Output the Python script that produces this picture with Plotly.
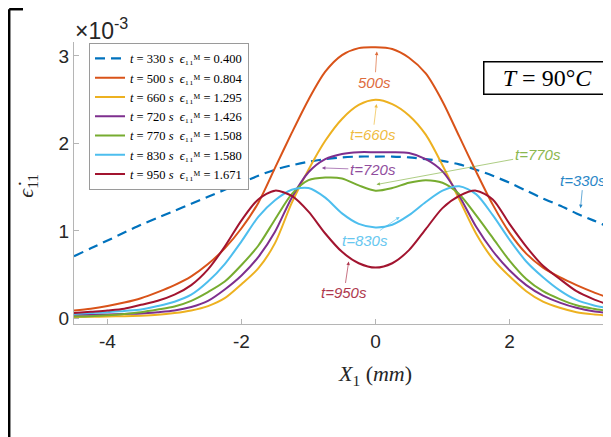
import plotly.graph_objects as go

# ---------------- data (strain rate in units of 1e-3) ----------------
x_mm = [-4.5, -4.25, -4, -3.75, -3.5, -3.25, -3, -2.75, -2.5, -2.25, -2, -1.75, -1.5, -1.25,
        -1, -0.75, -0.5, -0.25, 0, 0.25, 0.5, 0.75, 1, 1.25, 1.5, 1.75, 2, 2.25, 2.5, 2.75,
        3, 3.25, 3.5]

eps_330 = [0.71, 0.80, 0.89, 0.98, 1.07, 1.15, 1.23, 1.31, 1.39, 1.47, 1.55, 1.63, 1.70, 1.75,
           1.79, 1.82, 1.84, 1.85, 1.85, 1.85, 1.84, 1.82, 1.80, 1.76, 1.70, 1.63, 1.55, 1.46,
           1.37, 1.29, 1.20, 1.12, 1.04]
eps_500 = [0.09, 0.11, 0.14, 0.18, 0.23, 0.30, 0.38, 0.48, 0.62, 0.80, 1.03, 1.32, 1.72, 2.12,
           2.50, 2.82, 3.01, 3.09, 3.10, 3.08, 2.98, 2.80, 2.48, 2.08, 1.68, 1.30, 0.98, 0.74,
           0.58, 0.47, 0.38, 0.30, 0.23]
eps_660 = [0.015, 0.018, 0.02, 0.025, 0.03, 0.04, 0.06, 0.09, 0.14, 0.23, 0.39, 0.57, 0.86, 1.32,
           1.70, 2.03, 2.28, 2.44, 2.50, 2.45, 2.32, 2.10, 1.75, 1.36, 0.97, 0.68, 0.48, 0.31,
           0.19, 0.12, 0.07, 0.045, 0.03]
eps_720 = [0.04, 0.04, 0.045, 0.05, 0.055, 0.07, 0.09, 0.13, 0.20, 0.33, 0.49, 0.70, 0.99, 1.38,
           1.67, 1.82, 1.88, 1.90, 1.90, 1.90, 1.89, 1.82, 1.68, 1.40, 1.05, 0.77, 0.55, 0.38,
           0.26, 0.18, 0.12, 0.08, 0.06]
eps_770 = [0.02, 0.025, 0.035, 0.05, 0.07, 0.10, 0.135, 0.20, 0.30, 0.42, 0.61, 0.83, 1.13, 1.42,
           1.58, 1.61, 1.60, 1.52, 1.46, 1.49, 1.55, 1.58, 1.55, 1.42, 1.18, 0.92, 0.66, 0.45,
           0.31, 0.22, 0.15, 0.11, 0.08]
eps_830 = [0.05, 0.06, 0.07, 0.085, 0.10, 0.14, 0.19, 0.27, 0.42, 0.62, 0.88, 1.16, 1.35, 1.47,
           1.49, 1.38, 1.20, 1.08, 1.04, 1.07, 1.18, 1.33, 1.46, 1.51, 1.42, 1.18, 0.90, 0.65,
           0.47, 0.32, 0.21, 0.15, 0.11]
eps_950 = [0.06, 0.075, 0.09, 0.11, 0.155, 0.20, 0.27, 0.38, 0.56, 0.82, 1.12, 1.36, 1.46, 1.40,
           1.22, 0.97, 0.76, 0.63, 0.58, 0.63, 0.78, 1.02, 1.26, 1.40, 1.46, 1.36, 1.08, 0.82,
           0.60, 0.45, 0.31, 0.22, 0.15]

times = [330, 500, 660, 720, 770, 830, 950]
eps_M = ["0.400", "0.804", "1.295", "1.426", "1.508", "1.580", "1.671"]
series = [eps_330, eps_500, eps_660, eps_720, eps_770, eps_830, eps_950]
colors = ["#0072BD", "#D95319", "#EDB120", "#7E2F8E", "#77AC30", "#4DBEEE", "#A2142F"]

y_ticks = [0, 1, 2, 3]
y_tick_labels = ["0", "1", "2", "3"]
x_ticks = [-4, -2, 0, 2]
x_tick_labels = ["-4", "-2", "0", "2"]
SCALE = 1e-3

NB = "\u00a0"
fig = go.Figure()
for t, em, vals, c in zip(times, eps_M, series, colors):
    name = (f"<i>t</i>{NB}={NB}{t}{NB}<i>s</i>{NB}{NB}<i>ϵ</i>₁₁ᴹ{NB}={NB}{em}")
    fig.add_trace(go.Scatter(
        x=x_mm, y=[v * SCALE for v in vals], mode="lines", name=name,
        line=dict(color=c, width=2.2 if t == 330 else 2,
                  dash="10px,6px" if t == 330 else "solid",
                  shape="spline", smoothing=0.8),
    ))

AX_COL = "#b5b5b5"
TXT_COL = "#262626"
fig.update_layout(
    width=603, height=429,
    margin=dict(l=66, r=1, t=34, b=113),
    paper_bgcolor="white", plot_bgcolor="white",
    showlegend=True,
    legend=dict(x=0.028, y=0.997, xanchor="left", yanchor="top",
                bgcolor="white", bordercolor="#9a9a9a", borderwidth=1,
                font=dict(family="Liberation Serif", size=12.5, color="black"),
                itemwidth=30, tracegroupgap=0),
    xaxis=dict(range=[-4.5, 3.5], showgrid=False, zeroline=False,
               showline=True, linecolor=AX_COL, linewidth=1,
               ticks="inside", ticklen=5, tickcolor=AX_COL,
               tickvals=x_ticks, ticktext=x_tick_labels,
               tickfont=dict(family="Liberation Sans", size=19, color=TXT_COL)),
    yaxis=dict(range=[-0.065 * SCALE, 3.16 * SCALE], showgrid=False, zeroline=False,
               showline=True, linecolor=AX_COL, linewidth=1,
               ticks="inside", ticklen=5, tickcolor=AX_COL,
               tickvals=[v * SCALE for v in y_ticks], ticktext=y_tick_labels,
               tickfont=dict(family="Liberation Sans", size=19, color=TXT_COL)),
)

# exponent label and axis titles
fig.add_annotation(xref="paper", yref="paper", x=-0.002, y=0.986, xanchor="left", yanchor="bottom",
                   text="×10<sup>-3</sup>", showarrow=False,
                   font=dict(family="Liberation Sans", size=23, color=TXT_COL))
fig.add_annotation(xref="paper", yref="paper", x=0.5616, y=-0.181, xanchor="center", yanchor="middle",
                   text="<i>X</i><sub>1</sub> (<i>mm</i>)", showarrow=False,
                   font=dict(family="Liberation Serif", size=22, color=TXT_COL))
fig.add_annotation(xref="paper", yref="paper", x=-0.088, y=0.49, xanchor="center", yanchor="middle",
                   text="<i>ϵ̇</i><sub>11</sub>", showarrow=False, textangle=-90,
                   font=dict(family="Liberation Serif", size=22, color=TXT_COL))

# temperature box
fig.add_annotation(xref="paper", yref="paper", x=0.884, y=0.871, xanchor="center", yanchor="middle",
                   text=f"<i>T</i>{NB}={NB}90°<i>C</i>", showarrow=False,
                   width=122, height=27, bgcolor="white", bordercolor="black", borderwidth=1.5,
                   borderpad=2, font=dict(family="Liberation Serif", size=24, color="black"))

# curve labels with arrows: (text, text_x, text_y, head_x, head_y, color)
labels = [
    ("500s", -0.01, 2.70, 0.02, 3.05, "#D95319"),
    ("t=660s", -0.04, 2.10, 0.015, 2.45, "#EDB120"),
    ("t=720s", -0.04, 1.70, -0.80, 1.72, "#7E2F8E"),
    ("t=770s", 2.42, 1.87, 0.015, 1.53, "#77AC30"),
    ("t=330s", 3.10, 1.58, 3.06, 1.26, "#0072BD"),
    ("t=830s", -0.15, 0.89, 0.36, 1.16, "#4DBEEE"),
    ("t=950s", -0.47, 0.29, -0.40, 0.65, "#A2142F"),
]
for txt, tx, ty, hx, hy, c in labels:
    fig.add_annotation(x=hx, y=hy * SCALE, ax=tx, ay=ty * SCALE, axref="x", ayref="y",
                       xref="x", yref="y", text=f"<i>{txt}</i>", showarrow=True,
                       arrowhead=2, arrowsize=1, arrowwidth=0.7, arrowcolor=c, standoff=0,
                       opacity=0.85,
                       font=dict(family="Liberation Sans", size=15, color=c))

# outer black frame fragments
fig.add_shape(type="line", xref="paper", yref="paper", x0=-0.1209, x1=-0.1209, y0=1.1163, y1=-0.41,
              line=dict(color="black", width=2.5))
fig.add_shape(type="line", xref="paper", yref="paper", x0=-0.1209, x1=-0.0951, y0=1.1163, y1=1.1163,
              line=dict(color="black", width=2.5))

fig.write_html("out.html")
